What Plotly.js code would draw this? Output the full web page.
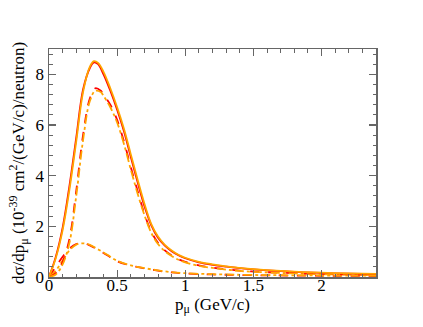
<!DOCTYPE html>
<html>
<head>
<meta charset="utf-8">
<script src="https://cdn.plot.ly/plotly-3.0.1.min.js"></script>
<style>
  html, body { margin: 0; padding: 0; background: #fff; }
  #plotDiv { width: 423px; height: 327px; }
</style>
</head>
<body>
<div id="plotDiv"></div>
<script>
// muon momentum p_mu (GeV/c)
const pTotal = [0, 0.05, 0.1, 0.15, 0.2, 0.25, 0.3, 0.33, 0.36, 0.4, 0.45, 0.5, 0.55, 0.6, 0.65, 0.7, 0.75, 0.8, 0.85, 0.9, 0.95, 1.0, 1.1, 1.2, 1.3, 1.4, 1.5, 1.6, 1.8, 2.0, 2.2, 2.4];
const totalOrange = [0, 0.75, 1.85, 3.45, 5.35, 7.3, 8.3, 8.52, 8.45, 8.1, 7.45, 6.7, 5.85, 4.85, 3.85, 2.9, 2.1, 1.6, 1.27, 1.05, 0.88, 0.76, 0.6, 0.5, 0.42, 0.36, 0.31, 0.27, 0.21, 0.17, 0.14, 0.12];
const totalRed = [0, 0.8, 1.95, 3.6, 5.5, 7.4, 8.25, 8.47, 8.4, 8.0, 7.35, 6.6, 5.75, 4.75, 3.75, 2.8, 2.05, 1.55, 1.24, 1.02, 0.86, 0.74, 0.58, 0.48, 0.41, 0.35, 0.3, 0.26, 0.2, 0.16, 0.13, 0.11];

const pMid = [0, 0.05, 0.1, 0.15, 0.2, 0.25, 0.3, 0.34, 0.38, 0.4, 0.45, 0.5, 0.55, 0.6, 0.65, 0.7, 0.75, 0.8, 0.85, 0.9, 0.95, 1.0, 1.1, 1.2, 1.4, 1.6, 1.8, 2.0, 2.2, 2.4];
const midRed = [0, 0.15, 0.6, 1.5, 3.4, 5.6, 7.05, 7.45, 7.35, 7.2, 6.8, 6.2, 5.35, 4.35, 3.4, 2.5, 1.8, 1.35, 1.05, 0.85, 0.7, 0.6, 0.46, 0.37, 0.25, 0.19, 0.15, 0.12, 0.1, 0.08];
const midOrange = [0, 0.1, 0.5, 1.35, 3.2, 5.4, 6.95, 7.35, 7.3, 7.15, 6.7, 6.1, 5.25, 4.25, 3.3, 2.45, 1.75, 1.3, 1.02, 0.83, 0.68, 0.58, 0.44, 0.36, 0.24, 0.18, 0.14, 0.11, 0.09, 0.07];

const pLow = [0, 0.05, 0.1, 0.15, 0.2, 0.25, 0.3, 0.35, 0.4, 0.45, 0.5, 0.6, 0.7, 0.8, 0.9, 1.0, 1.2, 1.5, 2.0, 2.4];
const lowRed = [0, 0.4, 0.8, 1.12, 1.3, 1.34, 1.25, 1.1, 0.95, 0.78, 0.62, 0.45, 0.34, 0.25, 0.18, 0.14, 0.1, 0.07, 0.05, 0.04];
const lowOrange = [0, 0.25, 0.65, 1.05, 1.28, 1.33, 1.27, 1.12, 0.97, 0.8, 0.64, 0.46, 0.35, 0.26, 0.19, 0.15, 0.11, 0.08, 0.06, 0.05];

const orange = "#FFA500";
const red = "#FF0000";

const mk = (x, y, color, dash) => ({
  x: x, y: y, type: "scatter", mode: "lines",
  line: { color: color, width: 1.8, dash: dash, shape: "spline", smoothing: 1 },
  hoverinfo: "skip", showlegend: false,
});

const traces = [
  mk(pLow, lowRed, red, "dash"),
  mk(pLow, lowOrange, orange, "dashdot"),
  mk(pMid, midRed, red, "dash"),
  mk(pMid, midOrange, orange, "dashdot"),
  mk(pTotal, totalRed, red, "solid"),
  mk(pTotal, totalOrange, orange, "solid"),
];

const font = { family: "Liberation Serif, serif", size: 17, color: "#000" };
const axisBase = {
  showgrid: false, zeroline: false, showline: true, mirror: "ticks",
  linecolor: "#666", linewidth: 1.5,
  ticks: "inside", ticklen: 7, tickwidth: 1.2, tickcolor: "#666",
  tickfont: font,
};

const layout = {
  width: 423, height: 327,
  margin: { l: 49, r: 47, t: 49, b: 50 },
  paper_bgcolor: "#fff", plot_bgcolor: "#fff",
  font: font,
  xaxis: Object.assign({}, axisBase, {
    range: [0, 2.4], dtick: 0.5, tick0: 0, ticklabelstandoff: -8,
    minor: { dtick: 0.1, ticks: "inside", ticklen: 3.5, tickcolor: "#666", tickwidth: 1 },
    title: { text: "p<sub>μ</sub> (GeV/c)", font: font, standoff: 0 },
  }),
  yaxis: Object.assign({}, axisBase, {
    range: [0, 9], dtick: 2, tick0: 0,
    minor: { dtick: 0.4, ticks: "inside", ticklen: 3.5, tickcolor: "#666", tickwidth: 1 },
    title: { text: "dσ/dp<sub>μ</sub> (10<sup>-39</sup> cm<sup>2</sup>/(GeV/c)/neutron)", font: font, standoff: 6 },
  }),
};

Plotly.newPlot("plotDiv", traces, layout, { staticPlot: true });
</script>
</body>
</html>
